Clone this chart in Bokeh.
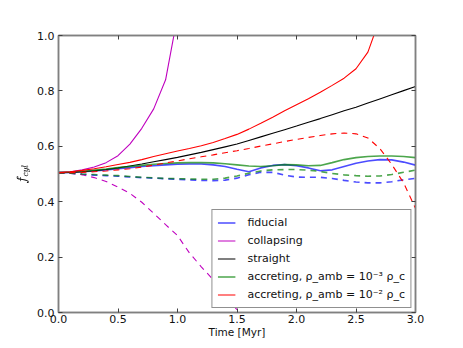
from bokeh.plotting import figure
from bokeh.models import (LinearAxis, FixedTicker, PrintfTickFormatter, Range1d, Legend,
                          LegendItem, CustomLabelingPolicy)
from bokeh.embed import file_html
from bokeh.resources import INLINE

# ---------------- data ----------------
time = [0.0, 0.1, 0.2, 0.3, 0.4, 0.5, 0.6, 0.7, 0.8, 0.9, 1.0,
        1.1, 1.2, 1.3, 1.4, 1.5, 1.6, 1.7, 1.8, 1.9, 2.0,
        2.1, 2.2, 2.3, 2.4, 2.5, 2.6, 2.7, 2.8, 2.9, 3.0]

fiducial = [0.505, 0.506, 0.508, 0.511, 0.515, 0.519, 0.523, 0.527, 0.530, 0.533, 0.535,
            0.536, 0.536, 0.533, 0.527, 0.517, 0.508, 0.522, 0.531, 0.534, 0.530,
            0.522, 0.512, 0.515, 0.527, 0.539, 0.547, 0.552, 0.551, 0.543, 0.532]
fiducial_d = [0.505, 0.503, 0.499, 0.496, 0.494, 0.492, 0.489, 0.487, 0.485, 0.483, 0.481,
              0.479, 0.477, 0.476, 0.478, 0.485, 0.497, 0.506, 0.506, 0.496, 0.489,
              0.488, 0.488, 0.484, 0.477, 0.471, 0.468, 0.468, 0.472, 0.479, 0.484]

acc3 = [0.505, 0.507, 0.510, 0.514, 0.518, 0.523, 0.527, 0.531, 0.535, 0.538, 0.540,
        0.541, 0.541, 0.540, 0.537, 0.533, 0.529, 0.527, 0.530, 0.534, 0.533,
        0.530, 0.531, 0.541, 0.552, 0.559, 0.563, 0.565, 0.565, 0.563, 0.559]
acc3_d = [0.505, 0.503, 0.500, 0.498, 0.496, 0.494, 0.491, 0.488, 0.486, 0.484, 0.483,
          0.482, 0.481, 0.481, 0.485, 0.493, 0.503, 0.511, 0.515, 0.516, 0.516,
          0.514, 0.509, 0.502, 0.497, 0.494, 0.492, 0.493, 0.498, 0.506, 0.514]

straight = [0.505, 0.506, 0.508, 0.512, 0.516, 0.522, 0.529, 0.536, 0.544, 0.552, 0.560,
            0.569, 0.578, 0.588, 0.598, 0.608, 0.621, 0.634, 0.647, 0.660, 0.673,
            0.687, 0.700, 0.714, 0.728, 0.741, 0.756, 0.771, 0.786, 0.801, 0.816]

acc2_t = [0.0, 0.1, 0.2, 0.3, 0.4, 0.5, 0.6, 0.7, 0.8, 0.9, 1.0,
          1.1, 1.2, 1.3, 1.4, 1.5, 1.6, 1.7, 1.8, 1.9, 2.0,
          2.1, 2.2, 2.3, 2.4, 2.5, 2.6, 2.7]
acc2 = [0.505, 0.508, 0.513, 0.519, 0.526, 0.534, 0.542, 0.552, 0.563, 0.573, 0.583,
        0.592, 0.602, 0.614, 0.628, 0.643, 0.662, 0.683, 0.705, 0.728, 0.750,
        0.772, 0.795, 0.820, 0.846, 0.880, 0.940, 1.060]
acc2_d = [0.505, 0.505, 0.506, 0.508, 0.511, 0.515, 0.519, 0.525, 0.532, 0.540, 0.547,
          0.555, 0.562, 0.569, 0.577, 0.584, 0.592, 0.601, 0.609, 0.617, 0.625,
          0.632, 0.639, 0.645, 0.648, 0.645, 0.630, 0.592, 0.535, 0.468, 0.376]

coll_t = [0.0, 0.1, 0.2, 0.3, 0.4, 0.5, 0.6, 0.7, 0.8, 0.9, 1.0]
coll = [0.505, 0.508, 0.515, 0.525, 0.541, 0.566, 0.608, 0.665, 0.735, 0.840, 1.070]
coll_d_t = [0.0, 0.1, 0.2, 0.3, 0.4, 0.5, 0.6, 0.7, 0.8, 0.9, 1.0,
            1.1, 1.2, 1.3, 1.4, 1.5]
coll_d = [0.505, 0.503, 0.497, 0.487, 0.473, 0.453, 0.430, 0.398, 0.358, 0.317, 0.278,
          0.215, 0.165, 0.118, 0.062, 0.010]

x_ticks = [0.0, 0.5, 1.0, 1.5, 2.0, 2.5, 3.0]
y_ticks = [0.0, 0.2, 0.4, 0.6, 0.8, 1.0]

labels = ["fiducial", "collapsing", "straight",
          "accreting, \u03c1_amb = 10\u207b\u00b3 \u03c1_c",
          "accreting, \u03c1_amb = 10\u207b\u00b2 \u03c1_c"]

BLUE = "#0000ff"
MAG = "#bf00bf"
BLACK = "#000000"
GREEN = "#008000"
RED = "#ff0000"
FONT = "DejaVu Sans"
DASH = "6 5"

# ---------------- figure ----------------
p = figure(width=447, height=340, output_backend="svg", toolbar_location=None,
           x_range=Range1d(0, 3), y_range=Range1d(0, 1),
           min_border_left=58, min_border_right=32, min_border_top=35, min_border_bottom=27)
p.background_fill_color = "white"
p.border_fill_color = "white"
p.xgrid.visible = False
p.ygrid.visible = False
p.outline_line_color = "#808080"
p.outline_line_width = 1.5

no_labels = CustomLabelingPolicy(code="""
    const all = [...indices]
    for (const i of all)
        indices.unset(i)
    return indices
""")

def style_axis(ax, ticks, show_labels):
    ax.ticker = FixedTicker(ticks=ticks)
    ax.formatter = PrintfTickFormatter(format="%.1f")
    ax.axis_line_color = "#808080"
    ax.axis_line_width = 1.5
    ax.major_tick_in = 4
    ax.major_tick_out = 0
    ax.major_tick_line_color = "#404040"
    ax.minor_tick_line_color = None
    ax.major_label_text_font = FONT
    ax.major_label_text_color = "#111111"
    ax.major_label_text_font_size = "11px"
    if show_labels:
        ax.major_label_standoff = 2
    else:
        ax.major_label_policy = no_labels
        ax.major_label_standoff = 0

style_axis(p.xaxis[0], x_ticks, True)
style_axis(p.yaxis[0], y_ticks, True)
p.yaxis.major_label_standoff = 4
p.xaxis.axis_label = "Time [Myr]"
p.yaxis.axis_label = r"$$f_{cyl}$$"
for ax in (p.xaxis[0], p.yaxis[0]):
    ax.axis_label_text_font = FONT
    ax.axis_label_text_font_size = "10.5px"
    ax.axis_label_text_font_style = "normal"
    ax.axis_label_text_color = "#111111"
p.xaxis.axis_label_standoff = 0
p.yaxis.axis_label_standoff = 4

top = LinearAxis()
style_axis(top, x_ticks, False)
p.add_layout(top, "above")
right = LinearAxis()
style_axis(right, y_ticks, False)
p.add_layout(right, "right")

# ---------------- lines ----------------
r_fid = p.line(time, fiducial, line_color=BLUE, line_width=1.6, line_alpha=0.7)
p.line(time, fiducial_d, line_color=BLUE, line_width=1.6, line_alpha=0.7, line_dash=DASH)
r_col = p.line(coll_t, coll, line_color=MAG, line_width=1.1)
p.line(coll_d_t, coll_d, line_color=MAG, line_width=1.1, line_dash=DASH)
r_str = p.line(time, straight, line_color=BLACK, line_width=1.1)
r_a3 = p.line(time, acc3, line_color=GREEN, line_width=1.6, line_alpha=0.7)
p.line(time, acc3_d, line_color=GREEN, line_width=1.6, line_alpha=0.7, line_dash=DASH)
r_a2 = p.line(acc2_t, acc2, line_color=RED, line_width=1.1)
p.line(time, acc2_d, line_color=RED, line_width=1.1, line_dash=DASH)

legend = Legend(items=[LegendItem(label=labels[0], renderers=[r_fid]),
                       LegendItem(label=labels[1], renderers=[r_col]),
                       LegendItem(label=labels[2], renderers=[r_str]),
                       LegendItem(label=labels[3], renderers=[r_a3]),
                       LegendItem(label=labels[4], renderers=[r_a2])],
                location="bottom_right")
legend.margin = 4
legend.padding = 5
legend.spacing = 3
legend.label_height = 15
legend.glyph_height = 15
legend.glyph_width = 18
legend.label_standoff = 12
legend.label_text_font = FONT
legend.label_text_font_size = "11px"
legend.label_text_color = "#111111"
legend.border_line_color = "#222222"
legend.border_line_width = 1
legend.background_fill_color = "white"
legend.background_fill_alpha = 1.0
p.add_layout(legend)

open("out.html", "w").write(file_html(p, INLINE))
